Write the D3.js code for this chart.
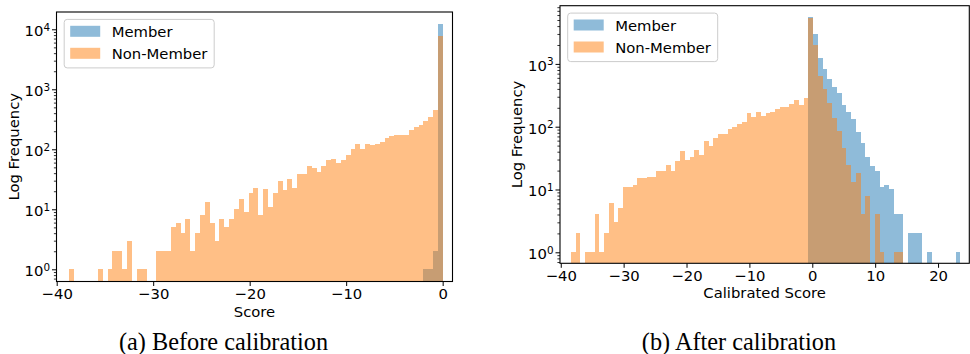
<!DOCTYPE html>
<html>
<head>
<meta charset="utf-8">
<script src="https://cdn.jsdelivr.net/npm/d3@7"></script>
<style>
  body { margin: 0; background: #fff; }
  svg { display: block; font-family: "DejaVu Sans", sans-serif; }
</style>
</head>
<body>
<svg id="fig" width="970" height="354"></svg>
<script>
// (a) before calibration: 77 histogram bins, counts per bin
const beforeBinStart = -38.75;
const beforeBinWidth = 0.5036;
const beforeMember = [
  0, 0, 0, 0, 0, 0, 0, 0, 0, 0,
  0, 0, 0, 0, 0, 0, 0, 0, 0, 0,
  0, 0, 0, 0, 0, 0, 0, 0, 0, 0,
  0, 0, 0, 0, 0, 0, 0, 0, 0, 0,
  0, 0, 0, 0, 0, 0, 0, 0, 0, 0,
  0, 0, 0, 0, 0, 0, 0, 0, 0, 0,
  0, 0, 0, 0, 0, 0, 0, 0, 0, 0,
  0, 0, 0, 1, 1, 2, 12250
];
const beforeNonMember = [
  1, 0, 0, 0, 0, 0, 1, 0, 1, 2,
  2, 1, 3, 0, 1, 1, 0, 0, 2, 2,
  2, 5, 6, 4, 7, 2, 4, 8, 13, 6,
  3, 7, 5, 7, 10, 15, 9, 19, 23, 8,
  22, 11, 19, 30, 21, 32, 23, 39, 39, 53,
  48, 42, 53, 66, 69, 59, 66, 80, 101, 122,
  101, 122, 118, 122, 132, 155, 167, 172, 172, 173,
  210, 236, 254, 297, 346, 452, 7820
];

// (b) after calibration: 82 histogram bins
const afterBinStart = -38.41;
const afterBinWidth = 0.7555;
const afterMember = [
  0, 0, 0, 0, 0, 0, 0, 0, 0, 0,
  0, 0, 0, 0, 0, 0, 0, 0, 0, 0,
  0, 0, 0, 0, 0, 0, 0, 0, 0, 0,
  0, 0, 0, 0, 0, 0, 0, 0, 0, 0,
  0, 0, 0, 0, 0, 0, 0, 0, 0, 0,
  5600, 3030, 1240, 830, 575, 428, 344, 221, 171, 132,
  82, 55, 33, 24, 20, 11, 12, 10, 4, 4,
  0, 2, 2, 2, 0, 1, 0, 0, 0, 0,
  0, 1
];
const afterNonMember = [
  1, 2, 0, 1, 1, 4, 1, 2, 6, 3,
  5, 11, 11, 12, 15, 15, 16, 16, 20, 20,
  25, 20, 28, 41, 29, 33, 42, 35, 59, 49,
  66, 76, 76, 92, 99, 110, 119, 165, 143, 171,
  148, 165, 171, 191, 206, 206, 230, 266, 221, 286,
  5400, 2000, 642, 398, 238, 138, 85, 46, 25, 13,
  18, 4, 8, 0, 4, 1, 0, 0, 1, 1,
  0, 0, 0, 0, 0, 0, 0, 0, 0, 0,
  0, 0
];

const beforeXTicks = [-40, -30, -20, -10, 0];
const afterXTicks = [-40, -30, -20, -10, 0, 10, 20];
const beforeYTicks = [1, 10, 100, 1000, 10000];
const afterYTicks = [1, 10, 100, 1000];
const seriesNames = ['Member', 'Non-Member'];
const seriesColors = ['#1f77b4', '#ff7f0e'];

const svg = d3.select('#fig');
const FONT = 14.8;

function minorTicks(domain) {
  const out = [];
  const lo = Math.floor(Math.log10(domain[0]));
  const hi = Math.ceil(Math.log10(domain[1]));
  for (let e = lo; e <= hi; e++) {
    for (let m = 2; m <= 9; m++) {
      const v = m * Math.pow(10, e);
      if (v >= domain[0] && v <= domain[1]) out.push(v);
    }
  }
  return out;
}

function drawPanel(cfg, idx) {
  const g = svg.append('g');

  const x = d3.scaleLinear().domain(cfg.xDomain).range([cfg.left, cfg.right]);
  const y = d3.scaleLog().domain(cfg.yDomain).range([cfg.bottom, cfg.top]);

  g.append('clipPath').attr('id', 'clip' + idx)
    .append('rect')
    .attr('x', cfg.left).attr('y', cfg.top)
    .attr('width', cfg.right - cfg.left).attr('height', cfg.bottom - cfg.top);

  const plot = g.append('g').attr('clip-path', 'url(#clip' + idx + ')');

  // member first, non-member drawn over it
  cfg.series.forEach((counts, s) => {
    const bins = counts.map((c, i) => ({
      x0: cfg.binStart + i * cfg.binWidth,
      x1: cfg.binStart + (i + 1) * cfg.binWidth,
      c: c
    })).filter(d => d.c > 0);

    plot.append('g').selectAll('rect')
      .data(bins)
      .enter().append('rect')
      .attr('x', d => x(d.x0))
      .attr('width', d => x(d.x1) - x(d.x0))
      .attr('y', d => y(d.c))
      .attr('height', d => cfg.bottom - y(d.c))
      .attr('fill', seriesColors[s])
      .attr('fill-opacity', 0.5)
      .attr('shape-rendering', 'crispEdges');
  });

  // x axis
  const xa = g.append('g')
    .attr('transform', 'translate(0,' + cfg.bottom + ')')
    .call(d3.axisBottom(x).tickValues(cfg.xTicks).tickSize(4.5).tickPadding(2.8).tickFormat(d3.format('d')));
  xa.select('.domain').remove();
  xa.attr('font-size', FONT).attr('font-family', null);
  xa.selectAll('line').attr('stroke-width', 1);

  // y axis, minor ticks then major with 10^n labels
  const ym = g.append('g')
    .attr('transform', 'translate(' + cfg.left + ',0)')
    .call(d3.axisLeft(y).tickValues(minorTicks(cfg.yDomain)).tickSize(2.6).tickFormat(''));
  ym.select('.domain').remove();
  ym.selectAll('line').attr('stroke-width', 0.8);

  const ya = g.append('g')
    .attr('transform', 'translate(' + cfg.left + ',0)')
    .call(d3.axisLeft(y).tickValues(cfg.yTicks).tickSize(4.5).tickPadding(2).tickFormat(() => ''));
  ya.select('.domain').remove();
  ya.attr('font-size', FONT).attr('font-family', null);
  ya.selectAll('line').attr('stroke-width', 1);
  ya.selectAll('.tick text')
    .attr('dy', 6.4)
    .each(function (d) {
      const t = d3.select(this);
      t.text('10');
      t.append('tspan')
        .attr('dy', -5.6)
        .attr('font-size', 10.4)
        .text(Math.round(Math.log10(d)));
    });

  // frame
  g.append('rect')
    .attr('x', cfg.left).attr('y', cfg.top)
    .attr('width', cfg.right - cfg.left).attr('height', cfg.bottom - cfg.top)
    .attr('fill', 'none')
    .attr('stroke', '#000')
    .attr('stroke-width', 1.1);

  // axis titles
  g.append('text')
    .attr('x', (cfg.left + cfg.right) / 2)
    .attr('y', cfg.bottom + 35)
    .attr('text-anchor', 'middle')
    .attr('font-size', FONT)
    .text(cfg.xLabel);

  g.append('text')
    .attr('transform', 'translate(' + (cfg.left - 38) + ',' + ((cfg.top + cfg.bottom) / 2) + ') rotate(-90)')
    .attr('text-anchor', 'middle')
    .attr('font-size', FONT)
    .text('Log Frequency');

  // legend
  const lx = cfg.left + 7.7, ly = cfg.top + 7.4;
  const leg = g.append('g');
  leg.append('rect')
    .attr('x', lx).attr('y', ly)
    .attr('width', 150).attr('height', 48.5)
    .attr('rx', 3)
    .attr('fill', '#fff').attr('fill-opacity', 0.8)
    .attr('stroke', '#cccccc').attr('stroke-width', 1);
  seriesNames.forEach((name, i) => {
    leg.append('rect')
      .attr('x', lx + 6).attr('y', ly + 6.4 + i * 22)
      .attr('width', 30).attr('height', 11)
      .attr('fill', seriesColors[i]).attr('fill-opacity', 0.5);
    leg.append('text')
      .attr('x', lx + 47.5).attr('y', ly + 18 + i * 22)
      .attr('font-size', FONT)
      .text(name);
  });

  // caption
  svg.append('text')
    .attr('x', cfg.captionX)
    .attr('y', 350)
    .attr('text-anchor', 'middle')
    .attr('font-family', '"Liberation Serif", "Times New Roman", serif')
    .attr('font-size', 24.3)
    .text(cfg.caption);
}

drawPanel({
  left: 56.5, right: 452.5, top: 12, bottom: 281.5,
  xDomain: [-40.02, 1.02],
  yDomain: [Math.pow(10, -0.2033), Math.pow(10, 4.288)],
  binStart: beforeBinStart, binWidth: beforeBinWidth,
  series: [beforeMember, beforeNonMember],
  xTicks: beforeXTicks, yTicks: beforeYTicks,
  xLabel: 'Score',
  caption: '(a) Before calibration', captionX: 223.5
}, 0);

drawPanel({
  left: 560, right: 969.3, top: 5.7, bottom: 263.3,
  xDomain: [-40.12, 24.97],
  yDomain: [Math.pow(10, -0.1752), Math.pow(10, 3.9268)],
  binStart: afterBinStart, binWidth: afterBinWidth,
  series: [afterMember, afterNonMember],
  xTicks: afterXTicks, yTicks: afterYTicks,
  xLabel: 'Calibrated Score',
  caption: '(b) After calibration', captionX: 739
}, 1);
</script>
</body>
</html>
